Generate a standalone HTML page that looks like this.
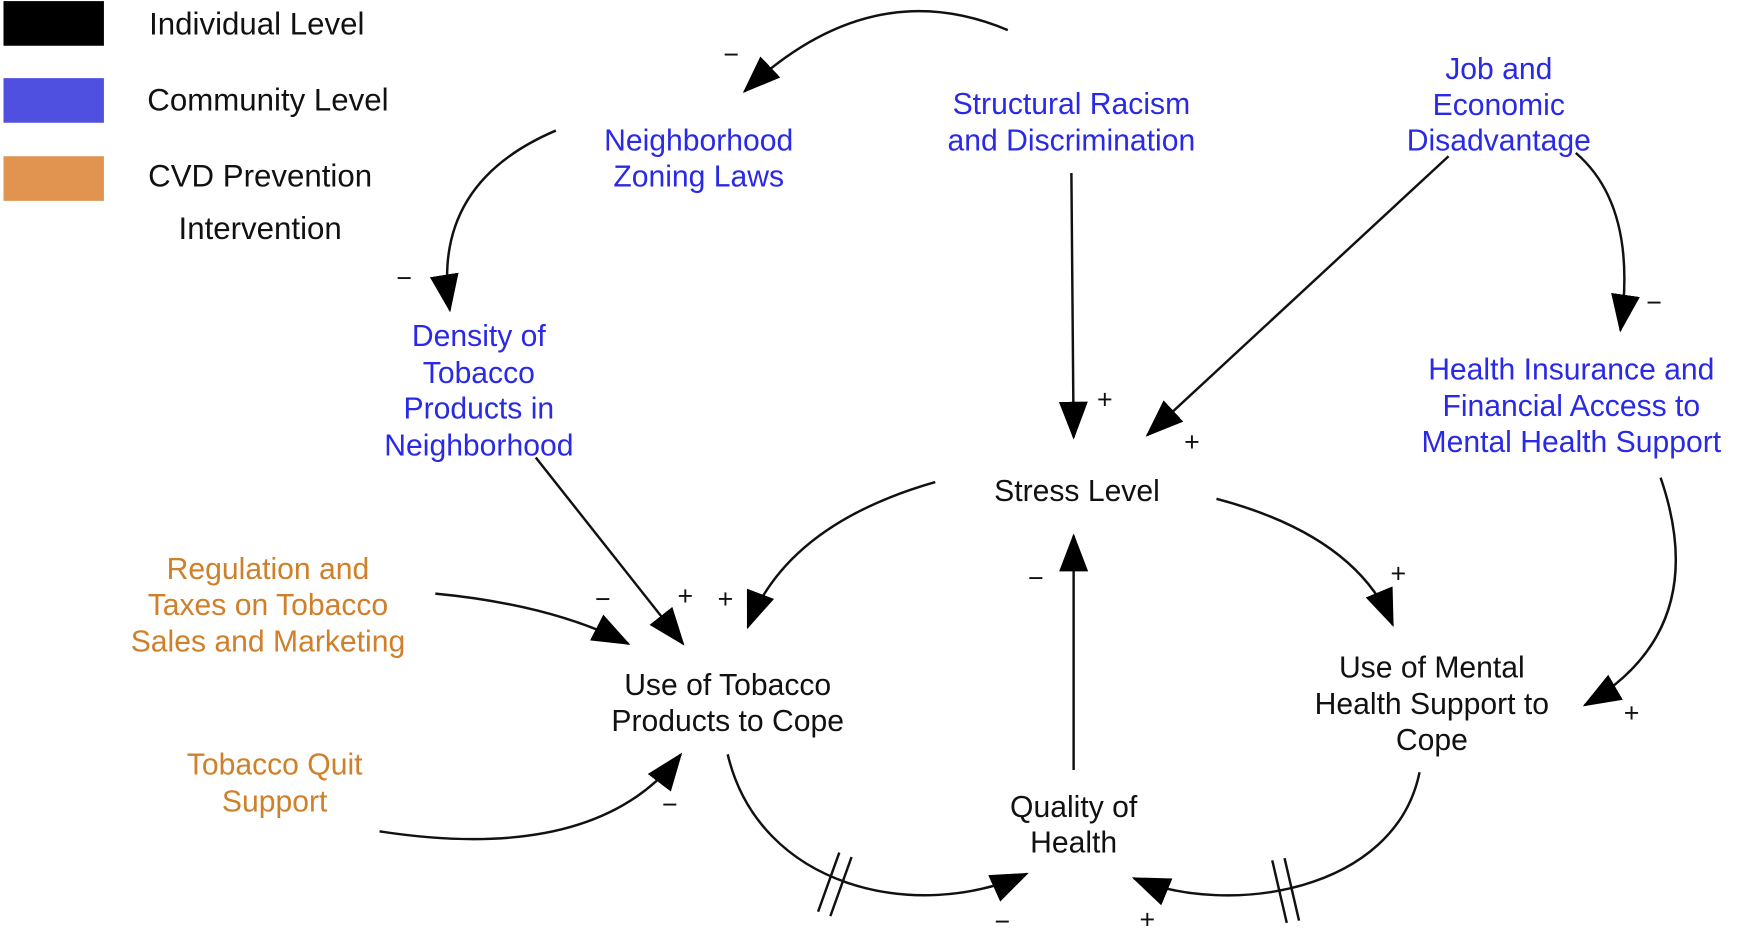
<!DOCTYPE html>
<html><head><meta charset="utf-8"><style>
html,body{margin:0;padding:0;background:#fff;}
svg{display:block;}
text{font-family:"Liberation Sans",Arial,sans-serif;font-size:27px;text-anchor:middle;}
.b{fill:#2a2ae6;}
.o{fill:#d0802a;}
.k{fill:#111;}
.s{font-size:24px;fill:#111;}
path,line{stroke:#111;stroke-width:2.2;fill:none;}
</style></head><body>
<svg width="1750" height="934" viewBox="0 0 1568 837" xmlns="http://www.w3.org/2000/svg">
<defs>
<marker id="a" markerUnits="userSpaceOnUse" markerWidth="34" markerHeight="26" refX="32" refY="13" orient="auto">
<path d="M0,0 L34,13 L0,26 Z" style="fill:#000;stroke:none"/>
</marker>
</defs>
<rect x="0" y="0" width="1568" height="837" fill="#fff"/>
<!-- legend -->
<rect x="3" y="1" width="90" height="40" fill="#000"/>
<rect x="3" y="70" width="90" height="40" fill="#5050e0"/>
<rect x="3" y="140" width="90" height="40" fill="#e09450"/>
<text x="230" y="31" style="font-size:28px" class="k">Individual Level</text>
<text x="240" y="99" style="font-size:28px" class="k">Community Level</text>
<text x="233" y="167" style="font-size:28px" class="k">CVD Prevention</text>
<text x="233" y="214" style="font-size:28px" class="k">Intervention</text>

<!-- nodes -->
<text class="b" x="960" y="102">Structural Racism</text>
<text class="b" x="960" y="135">and Discrimination</text>
<text class="b" x="626" y="135">Neighborhood</text>
<text class="b" x="626" y="167">Zoning Laws</text>
<text class="b" x="1343" y="71">Job and</text>
<text class="b" x="1343" y="103">Economic</text>
<text class="b" x="1343" y="135">Disadvantage</text>
<text class="b" x="429" y="310">Density of</text>
<text class="b" x="429" y="343">Tobacco</text>
<text class="b" x="429" y="375">Products in</text>
<text class="b" x="429" y="408">Neighborhood</text>
<text class="b" x="1408" y="340">Health Insurance and</text>
<text class="b" x="1408" y="373">Financial Access to</text>
<text class="b" x="1408" y="405">Mental Health Support</text>
<text class="k" x="965" y="449">Stress Level</text>
<text class="o" x="240" y="519">Regulation and</text>
<text class="o" x="240" y="551">Taxes on Tobacco</text>
<text class="o" x="240" y="584">Sales and Marketing</text>
<text class="k" x="652" y="623">Use of Tobacco</text>
<text class="k" x="652" y="655">Products to Cope</text>
<text class="k" x="1283" y="607">Use of Mental</text>
<text class="k" x="1283" y="640">Health Support to</text>
<text class="k" x="1283" y="672">Cope</text>
<text class="o" x="246" y="694">Tobacco Quit</text>
<text class="o" x="246" y="727">Support</text>
<text class="k" x="962" y="732">Quality of</text>
<text class="k" x="962" y="764">Health</text>

<!-- arrows -->
<path d="M903,27 Q780,-25 667,82" marker-end="url(#a)"/>
<path d="M498,117 Q385,165 403,278" marker-end="url(#a)"/>
<path d="M960,155 L962,392" marker-end="url(#a)"/>
<path d="M1298,140 L1028,390" marker-end="url(#a)"/>
<path d="M1412,137 Q1468,185 1452,296" marker-end="url(#a)"/>
<path d="M1488,428 Q1535,565 1420,632" marker-end="url(#a)"/>
<path d="M1090,447 Q1215,480 1248,560" marker-end="url(#a)"/>
<path d="M838,432 Q705,470 670,562" marker-end="url(#a)"/>
<path d="M480,410 L612,577" marker-end="url(#a)"/>
<path d="M390,532 Q495,542 563,577" marker-end="url(#a)"/>
<path d="M340,745 Q535,775 610,676" marker-end="url(#a)"/>
<path d="M652,676 C680,795 820,828 920,783" marker-end="url(#a)"/>
<path d="M1272,692 C1250,800 1100,822 1016,787" marker-end="url(#a)"/>
<path d="M962,690 L962,480" marker-end="url(#a)"/>

<!-- delay marks -->
<line x1="733" y1="817" x2="752" y2="764"/>
<line x1="744" y1="821" x2="763" y2="768"/>
<line x1="1153" y1="827" x2="1140" y2="771"/>
<line x1="1164" y1="825" x2="1151" y2="769"/>

<!-- polarities -->
<text class="s" x="655" y="57">−</text>
<text class="s" x="362" y="257">−</text>
<text class="s" x="990" y="366">+</text>
<text class="s" x="1068" y="404">+</text>
<text class="s" x="1482" y="279">−</text>
<text class="s" x="1462" y="647">+</text>
<text class="s" x="1253" y="522">+</text>
<text class="s" x="650" y="545">+</text>
<text class="s" x="614" y="542">+</text>
<text class="s" x="540" y="545">−</text>
<text class="s" x="600" y="729">−</text>
<text class="s" x="928" y="526">−</text>
<text class="s" x="898" y="834">−</text>
<text class="s" x="1028" y="832">+</text>
</svg>
</body></html>
